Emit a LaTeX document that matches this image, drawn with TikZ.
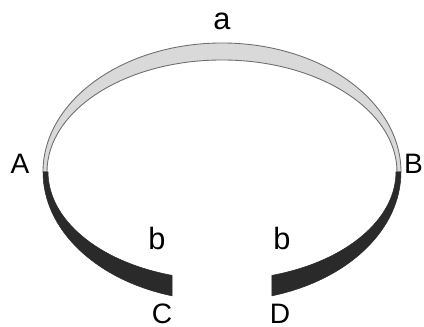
\documentclass[tikz,border=0pt]{standalone}
\usepackage{fontspec}
\setmainfont{Liberation Sans}
\usepackage{tikz}
\usetikzlibrary{positioning}
\usepackage{xcolor}
\definecolor{Pale}{HTML}{D9D9D9}
\definecolor{Rim}{HTML}{6E6E6E}
\definecolor{Ink}{HTML}{2A2A2A}
\tikzset{
  uppband/.style={fill=Pale, draw=Rim, line width=0.5pt},
  lowband/.style={fill=Ink, draw=Ink, line width=0.3pt},
  ptlbl/.style={inner sep=0pt, font=\fontsize{16}{19}\selectfont},
  arclbl/.style={inner sep=0pt, font=\fontsize{17.5}{20}\selectfont},
}

\begin{document}
\begin{tikzpicture}[x=0.02cm, y=0.02cm]
  \useasboundingbox (0,0) rectangle (424,327);
  \coordinate (A) at (43,155);
  \coordinate (B) at (401,155);

  \draw[uppband] (A) arc[start angle=180, end angle=0, x radius=179, y radius=129]
    -- (397,155) arc[start angle=0, end angle=180, x radius=175, y radius=112] -- cycle;

  \draw[lowband] (A) arc[start angle=180, end angle=253.8, x radius=179, y radius=129]
    coordinate (C) -- ++(0,20.5)
    arc[start angle=253.3, end angle=180, x radius=174, y radius=108] -- cycle;
  \draw[lowband] (B) arc[start angle=0, end angle=-73.8, x radius=179, y radius=129]
    coordinate (D) -- ++(0,20.5)
    arc[start angle=-73.3, end angle=0, x radius=174, y radius=108] -- cycle;

  \node[arclbl] (la) at (222,306) {a};
  \node[arclbl] (lb1) at (157,88) {b};
  \node[arclbl] (lb2) at (282,88) {b};
  \node[ptlbl] (lA) at (20,163) {A};
  \node[ptlbl] (lB) at (413.5,163) {B};
  \node[ptlbl] (lC) at (162,13) {C};
  \node[ptlbl] (lD) at (280,13) {D};
\end{tikzpicture}
\end{document}
